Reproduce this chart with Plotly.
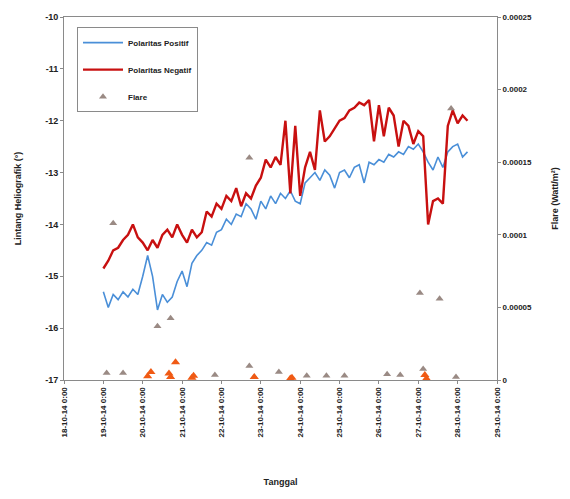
import pandas as pd
import plotly.graph_objects as go

# ---------------- data ----------------
series_start = "2014-10-19 00:00"
step = "3h"

positif = [
    -15.3, -15.6, -15.35, -15.45, -15.3, -15.4, -15.25, -15.35,
    -15.0, -14.6, -15.0, -15.65, -15.35, -15.5, -15.4, -15.1,
    -14.9, -15.2, -14.75, -14.6, -14.5, -14.35, -14.4, -14.15,
    -14.1, -13.9, -14.0, -13.8, -13.85, -13.6, -13.7, -13.9,
    -13.55, -13.7, -13.45, -13.6, -13.4, -13.5, -13.35, -13.55,
    -13.6, -13.2, -13.1, -13.0, -13.15, -12.95, -13.05, -13.3,
    -13.0, -12.95, -13.1, -12.9, -12.85, -13.2, -12.8, -12.85,
    -12.75, -12.8, -12.65, -12.7, -12.6, -12.65, -12.5, -12.55,
    -12.45, -12.6, -12.8, -12.95, -12.7, -12.9, -12.6, -12.5,
    -12.45, -12.7, -12.6,
]

negatif = [
    -14.85, -14.7, -14.5, -14.45, -14.3, -14.2, -14.0, -14.25,
    -14.35, -14.5, -14.3, -14.45, -14.2, -14.1, -14.25, -14.0,
    -14.2, -14.35, -14.1, -14.25, -14.15, -13.75, -13.85, -13.6,
    -13.7, -13.45, -13.55, -13.3, -13.65, -13.4, -13.5, -13.25,
    -13.1, -12.75, -12.9, -12.7, -12.85, -12.0, -13.4, -12.1,
    -13.45, -12.9, -12.6, -12.95, -11.8, -12.4, -12.3, -12.15,
    -12.0, -11.95, -11.8, -11.75, -11.65, -11.7, -11.6, -12.4,
    -11.7, -12.3, -11.75, -11.9, -12.5, -12.0, -12.1, -12.45,
    -12.2, -12.3, -14.0, -13.55, -13.5, -13.6, -12.1, -11.8,
    -12.05, -11.9, -12.0,
]

flare_times = [
    "2014-10-19 02:00", "2014-10-19 06:00", "2014-10-19 12:00", "2014-10-20 09:00",
    "2014-10-20 17:00", "2014-10-21 20:00", "2014-10-22 17:00", "2014-10-22 17:00",
    "2014-10-22 20:00", "2014-10-23 11:00", "2014-10-24 04:00", "2014-10-24 16:00",
    "2014-10-25 03:00", "2014-10-26 05:00", "2014-10-26 13:00", "2014-10-27 01:00",
    "2014-10-27 03:00", "2014-10-27 13:00", "2014-10-27 20:00", "2014-10-27 23:00",
]
flare_values = [
    0.0000048, 0.000108, 0.0000048, 0.000037,
    0.0000425, 0.0000034, 0.000153, 0.0000096,
    0.000002, 0.0000055, 0.000003, 0.000003,
    0.000003, 0.000004, 0.0000035, 0.00006,
    0.0000075, 0.000056, 0.000187, 0.000002,
]

flare2_times = [
    "2014-10-20 03:00", "2014-10-20 05:00", "2014-10-20 16:00", "2014-10-20 17:00",
    "2014-10-20 20:00", "2014-10-21 06:00", "2014-10-21 07:00", "2014-10-22 20:00",
    "2014-10-23 18:00", "2014-10-23 19:00", "2014-10-27 04:00", "2014-10-27 05:00",
]
flare2_values = [
    0.0000025, 0.0000055, 0.0000045, 0.000002,
    0.0000123, 0.0000015, 0.000003, 0.000002,
    0.000001, 0.0000015, 0.0000035, 0.000001,
]

x_tick_dates = pd.date_range("2014-10-18", "2014-10-29", freq="1D")
x_tick_labels = [d.strftime("%d-%m-%y") + " 0:00" for d in x_tick_dates]
y_ticks = [-10, -11, -12, -13, -14, -15, -16, -17]
y2_ticks = [0, 0.00005, 0.0001, 0.00015, 0.0002, 0.00025]
y2_labels = ["0", "0.00005", "0.0001", "0.00015", "0.0002", "0.00025"]

# ---------------- figure ----------------
times = pd.date_range(series_start, periods=len(positif), freq=step)
times_n = pd.date_range(series_start, periods=len(negatif), freq=step)

fig = go.Figure()
fig.add_trace(go.Scatter(
    x=times, y=positif, mode="lines", name="Polaritas Positif",
    line=dict(color="#4a8fd8", width=1.6), legendgroup="a"))
fig.add_trace(go.Scatter(
    x=times_n, y=negatif, mode="lines", name="Polaritas Negatif",
    line=dict(color="#c81010", width=2.4), legendgroup="b"))
fig.add_trace(go.Scatter(
    x=pd.to_datetime(flare_times), y=flare_values, mode="markers", name="Flare",
    marker=dict(symbol="triangle-up", size=7, color="#9a8a84"),
    yaxis="y2", legendgroup="c"))
fig.add_trace(go.Scatter(
    x=pd.to_datetime(flare2_times), y=flare2_values, mode="markers", name="Flare",
    marker=dict(symbol="triangle-up", size=8, color="#f05a14"),
    yaxis="y2", showlegend=False, legendgroup="c"))

axis_line = "#8a8a8a"
fig.update_layout(
    width=570, height=499,
    margin=dict(l=64, r=70, t=15, b=119),
    paper_bgcolor="white", plot_bgcolor="white",
    font=dict(family="Liberation Sans", size=8, color="#222222", weight="bold"),
    showlegend=True,
    legend=dict(
        x=0.03, y=0.972, xanchor="left", yanchor="top",
        bordercolor="#8a8a8a", borderwidth=1, bgcolor="white",
        font=dict(size=8, weight="bold"),
        traceorder="grouped", tracegroupgap=8, itemwidth=40,
    ),
    xaxis=dict(
        range=["2014-10-18", "2014-10-29"],
        tickvals=x_tick_dates, ticktext=x_tick_labels, tickangle=-90,
        showline=True, linecolor=axis_line, linewidth=1, mirror=True,
        ticks="outside", ticklen=3, tickcolor=axis_line,
        showgrid=False, zeroline=False,
        title=dict(text="Tanggal", standoff=42, font=dict(size=9, weight="bold")),
        tickfont=dict(size=8),
    ),
    yaxis=dict(
        range=[-17, -10], tickvals=y_ticks, ticktext=[str(v) for v in y_ticks],
        showline=True, linecolor=axis_line, linewidth=1,
        ticks="outside", ticklen=3, tickcolor=axis_line,
        showgrid=False, zeroline=False,
        title=dict(text="Lintang Heliografik (°)", standoff=22,
                   font=dict(size=9, weight="bold")),
        tickfont=dict(size=9),
    ),
    yaxis2=dict(
        range=[0, 0.00025], overlaying="y", side="right",
        tickvals=y2_ticks, ticktext=y2_labels,
        showline=True, linecolor=axis_line, linewidth=1,
        ticks="outside", ticklen=3, tickcolor=axis_line,
        showgrid=False, zeroline=False,
        title=dict(text="Flare (Watt/m²)", standoff=20,
                   font=dict(size=9, weight="bold")),
        tickfont=dict(size=8),
    ),
)

fig.write_html("out.html")
